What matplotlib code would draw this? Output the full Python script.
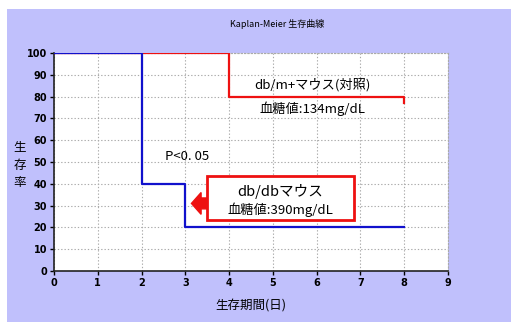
import matplotlib
matplotlib.use("Agg")
import matplotlib.pyplot as plt
from matplotlib.patches import Rectangle, FancyArrow

plt.rcParams['font.family'] = ['Noto Sans CJK JP', 'DejaVu Sans']

# data
days_dbm = [0, 4, 4, 8, 8]
surv_dbm = [100, 100, 80, 80, 77]
days_dbdb = [0, 2, 2, 3, 3, 8]
surv_dbdb = [100, 100, 40, 40, 20, 20]
xticks = list(range(0, 10))
yticks = list(range(0, 101, 10))

fig = plt.figure(figsize=(5.11, 3.22), dpi=100)
fig.patch.set_facecolor('white')
fig.patches.append(Rectangle((7/511, 0), 1 - 7/511, 1 - 9/322, transform=fig.transFigure,
                             facecolor='#c0c0fc', edgecolor='none', zorder=-10))

ax = fig.add_axes([54/511, 1 - 271/322, (448 - 54)/511, (271 - 53)/322])
ax.set_facecolor('white')
ax.set_xlim(0, 9)
ax.set_ylim(0, 100)
ax.set_xticks(xticks)
ax.set_yticks(yticks)
ax.grid(True, color='#aaaaaa', linestyle=(0, (1.2, 1.8)), linewidth=0.8)
for s in ['top', 'right']:
    ax.spines[s].set_color('#aaaaaa')
    ax.spines[s].set_linestyle((0, (1.2, 1.8)))
    ax.spines[s].set_linewidth(0.8)
for s in ['left', 'bottom']:
    ax.spines[s].set_color('#222222')
    ax.spines[s].set_linewidth(1.2)
ax.tick_params(length=3, width=1, direction='out', pad=2)
for lab in ax.get_xticklabels() + ax.get_yticklabels():
    lab.set_fontsize(7)
    lab.set_fontweight('bold')
    lab.set_family(['DejaVu Sans'])

ax.plot(days_dbm, surv_dbm, color='#ee1111', linewidth=1.6, zorder=3)
ax.plot(days_dbdb, surv_dbdb, color='#1111cc', linewidth=1.6, zorder=4)

ax.set_xlabel('生存期間(日)', fontsize=9, labelpad=8)
fig.text(20/511, 1 - 165/322, '生\n存\n率', fontsize=9, ha='center', va='center', linespacing=1.45)

fig.text(277/511, 1 - 24/322, 'Kaplan-Meier 生存曲線', fontsize=6.5, ha='center', va='center')

ax.text(5.9, 85.5, 'db/m+マウス(対照)', fontsize=9.5, ha='center', va='center', zorder=5)
ax.text(5.9, 74.5, '血糖値:134mg/dL', fontsize=9.5, ha='center', va='center', zorder=5)
ax.text(3.05, 52.5, 'P<0. 05', fontsize=9.5, ha='center', va='center', zorder=5)

# annotation box
x0, x1 = 3.49, 6.86
y0, y1 = 23.5, 43.5
ax.add_patch(Rectangle((x0, y0), x1 - x0, y1 - y0, facecolor='white', edgecolor='#ee1111',
                       linewidth=2, zorder=5))
ax.add_patch(FancyArrow(x0, 31.0, -0.35, 0, width=5, head_width=10, head_length=0.22,
                        length_includes_head=True, facecolor='#ee1111', edgecolor='#ee1111', zorder=5))
ax.text((x0 + x1) / 2, 36.5, 'db/dbマウス', fontsize=10.5, ha='center', va='center', zorder=6)
ax.text((x0 + x1) / 2, 28, '血糖値:390mg/dL', fontsize=9.5, ha='center', va='center', zorder=6)

fig.savefig('out.png', dpi=100)
